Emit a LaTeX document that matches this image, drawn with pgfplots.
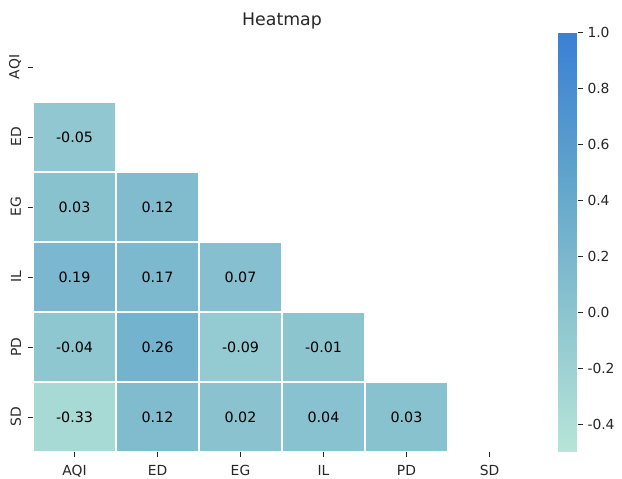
\documentclass[border=0pt]{standalone}
\usepackage{pgfplots}
\usepackage{pgfplotstable}
\pgfplotsset{compat=1.18}
\usepackage{fontspec}
\setmainfont{DejaVu Sans}
\definecolor{txt}{HTML}{262626}
% cell values: column c, row r, value v
\pgfplotstableread{
c r v
0 1 -0.05
0 2 0.03
1 2 0.12
0 3 0.19
1 3 0.17
2 3 0.07
0 4 -0.04
1 4 0.26
2 4 -0.09
3 4 -0.01
0 5 -0.33
1 5 0.12
2 5 0.02
3 5 0.04
4 5 0.03
}\cells
% rectangle corners of each cell (4 rows per cell)
\pgfplotstableread{
x y v
-0.5 0.5 -0.05
0.5 0.5 -0.05
0.5 1.5 -0.05
-0.5 1.5 -0.05
-0.5 1.5 0.03
0.5 1.5 0.03
0.5 2.5 0.03
-0.5 2.5 0.03
0.5 1.5 0.12
1.5 1.5 0.12
1.5 2.5 0.12
0.5 2.5 0.12
-0.5 2.5 0.19
0.5 2.5 0.19
0.5 3.5 0.19
-0.5 3.5 0.19
0.5 2.5 0.17
1.5 2.5 0.17
1.5 3.5 0.17
0.5 3.5 0.17
1.5 2.5 0.07
2.5 2.5 0.07
2.5 3.5 0.07
1.5 3.5 0.07
-0.5 3.5 -0.04
0.5 3.5 -0.04
0.5 4.5 -0.04
-0.5 4.5 -0.04
0.5 3.5 0.26
1.5 3.5 0.26
1.5 4.5 0.26
0.5 4.5 0.26
1.5 3.5 -0.09
2.5 3.5 -0.09
2.5 4.5 -0.09
1.5 4.5 -0.09
2.5 3.5 -0.01
3.5 3.5 -0.01
3.5 4.5 -0.01
2.5 4.5 -0.01
-0.5 4.5 -0.33
0.5 4.5 -0.33
0.5 5.5 -0.33
-0.5 5.5 -0.33
0.5 4.5 0.12
1.5 4.5 0.12
1.5 5.5 0.12
0.5 5.5 0.12
1.5 4.5 0.02
2.5 4.5 0.02
2.5 5.5 0.02
1.5 5.5 0.02
2.5 4.5 0.04
3.5 4.5 0.04
3.5 5.5 0.04
2.5 5.5 0.04
3.5 4.5 0.03
4.5 4.5 0.03
4.5 5.5 0.03
3.5 5.5 0.03
}\corners
\begin{document}
\begin{tikzpicture}
\begin{axis}[
  name=main,
  scale only axis,
  width=373.5pt, height=315pt,
  xmin=-0.5, xmax=5.5, ymin=-0.5, ymax=5.5,
  y dir=reverse,
  xtick={0,...,5}, ytick={0,...,5},
  xticklabels={AQI,ED,EG,IL,PD,SD},
  yticklabels={AQI,ED,EG,IL,PD,SD},
  yticklabel style={rotate=90, anchor=south},
  xticklabel shift=3pt, yticklabel shift=1.8pt,
  tick label style={font=\fontsize{10.4}{12}\selectfont, text=txt},
  xtick pos=left, ytick pos=left,
  tick align=outside,
  major tick length=3.6pt,
  tick style={txt, line width=0.6pt},
  axis line style={draw=none},
  title={Heatmap},
  title style={font=\fontsize{13}{15}\selectfont, text=txt, yshift=-7pt},
  colormap={tealblue}{rgb255(0)=(183,229,216) rgb255(1)=(140,196,207) rgb255(2)=(95,163,204) rgb255(3)=(58,127,213)},
  point meta min=-0.5, point meta max=1.0,
  colorbar right,
  colorbar shift/.style={xshift=20.25pt},
  colorbar style={
    width=15pt,
    axis line style={draw=none},
    ytick={-0.4,-0.2,0,0.2,0.4,0.6,0.8,1.0},
    ytick pos=right, yticklabel pos=right,
    tick align=outside,
    yticklabel style={font=\fontsize{10.4}{12}\selectfont, text=txt,
      /pgf/number format/.cd, fixed, fixed zerofill, precision=1, assume math mode=true},
    major tick length=3.6pt,
    tick style={txt, line width=0.6pt},
  },
]
\addplot[patch, patch type=rectangle, shader=faceted, faceted color=white,
  line width=1.9pt, point meta=explicit] table[x=x, y=y, meta=v] {\corners};
\addplot[only marks, mark=none, point meta=explicit,
  nodes near coords={\pgfmathprintnumber[fixed, fixed zerofill, precision=2, assume math mode=true]{\pgfplotspointmeta}},
  nodes near coords align={center},
  every node near coord/.append style={font=\fontsize{10.7}{12}\selectfont, text=black, anchor=center},
] table[x=c, y=r, meta=v] {\cells};
\end{axis}
\pgfresetboundingbox
\path ([xshift=-24.75pt,yshift=-20.25pt]main.south west) rectangle ([xshift=68.25pt,yshift=24pt]main.north east);
\end{tikzpicture}
\end{document}
